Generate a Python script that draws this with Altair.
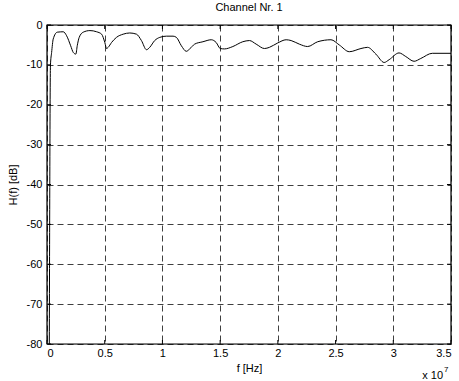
import altair as alt
import pandas as pd

# frequency in units of 1e7 Hz
freq = [0.02, 0.03, 0.04, 0.054, 0.089, 0.141, 0.170, 0.205, 0.228, 0.25, 0.262, 0.279, 0.314,
        0.372, 0.43, 0.473, 0.501, 0.516, 0.53, 0.559, 0.602, 0.66, 0.717, 0.775, 0.818, 0.862,
        0.89, 0.933, 0.977, 1.034, 1.092, 1.121, 1.164, 1.207, 1.236, 1.279, 1.351, 1.423, 1.466,
        1.501, 1.538, 1.61, 1.696, 1.754, 1.812, 1.884, 1.927, 1.999, 2.072, 2.115, 2.186, 2.258,
        2.345, 2.46, 2.532, 2.619, 2.72, 2.777, 2.849, 2.921, 2.964, 3.05, 3.108, 3.18, 3.238,
        3.338, 3.5]
gain_db = [-80, -10, -6.9, -3.5, -1.8, -1.7, -2.7, -5.2, -6.9, -7.3, -5.2, -3.1, -1.8,
           -1.4, -1.7, -2.3, -4.4, -5.9, -5.6, -4.4, -3.1, -2.3, -2.0, -2.3, -3.9, -6.2,
           -5.6, -3.9, -3.1, -2.8, -2.8, -3.1, -5.2, -6.6, -6.0, -4.8, -4.2, -3.7, -4.4,
           -5.9, -6.0, -5.4, -4.2, -3.9, -4.8, -5.9, -5.6, -4.5, -3.7, -3.9, -4.8, -5.4,
           -4.2, -3.7, -5.0, -6.7, -5.9, -5.6, -7.3, -9.4, -8.7, -7.0, -7.9, -9.1, -8.4,
           -7.1, -7.1]

x_ticks = [0, 0.5, 1, 1.5, 2, 2.5, 3, 3.5]
y_ticks = [0, -10, -20, -30, -40, -50, -60, -70, -80]

FONT = "Liberation Sans"
W, H = 404, 319

df = pd.DataFrame({"f": freq, "h": gain_db})
xs = alt.Scale(domain=[0, 3.5], nice=False, zero=False)
ys = alt.Scale(domain=[-80, 0], nice=False, zero=False)

base_axis = dict(grid=True, gridDash=[6, 4], gridColor="#000000", gridOpacity=0.75, gridWidth=1,
                 ticks=False, domain=False, labelFont=FONT, labelFontSize=11, labelColor="#000",
                 labelOverlap=False, labelExpr="datum.value",
                 titleFont=FONT, titleFontSize=11, titleFontWeight="normal", titleColor="#000")
xaxis = alt.Axis(values=x_ticks, title="f [Hz]", labelPadding=3, titlePadding=4, **base_axis)
yaxis = alt.Axis(values=y_ticks, title="H(f) [dB]", labelPadding=5, titlePadding=8, **base_axis)

line = alt.Chart(df).mark_line(color="#000000", strokeWidth=1, interpolate="monotone").encode(
    x=alt.X("f:Q", scale=xs, axis=xaxis),
    y=alt.Y("h:Q", scale=ys, axis=yaxis),
)

# inside tick marks
xt = pd.DataFrame({"v": x_ticks})
yt = pd.DataFrame({"v": y_ticks})
tick_len_y = 80 * 4 / H
tick_len_x = 3.5 * 4 / W
xb = alt.Chart(xt).mark_rule(color="#000").encode(
    x=alt.X("v:Q", scale=xs, axis=xaxis, title="f [Hz]"),
    y=alt.datum(-80, scale=ys, axis=yaxis, title="H(f) [dB]"), y2=alt.datum(-80 + tick_len_y))
xtp = alt.Chart(xt).mark_rule(color="#000").encode(
    x=alt.X("v:Q", scale=xs, axis=xaxis, title="f [Hz]"),
    y=alt.datum(0, scale=ys, axis=yaxis, title="H(f) [dB]"), y2=alt.datum(-tick_len_y))
yl = alt.Chart(yt).mark_rule(color="#000").encode(
    y=alt.Y("v:Q", scale=ys, axis=yaxis, title="H(f) [dB]"),
    x=alt.datum(0, scale=xs, axis=xaxis, title="f [Hz]"), x2=alt.datum(tick_len_x))
yr = alt.Chart(yt).mark_rule(color="#000").encode(
    y=alt.Y("v:Q", scale=ys, axis=yaxis, title="H(f) [dB]"),
    x=alt.datum(3.5, scale=xs, axis=xaxis, title="f [Hz]"), x2=alt.datum(3.5 - tick_len_x))

frame = alt.Chart(pd.DataFrame({"a": [0]})).mark_rect(
    fill=None, fillOpacity=0, stroke="#000", strokeWidth=1.2).encode(
    x=alt.datum(0, scale=xs, axis=xaxis, title="f [Hz]"), x2=alt.datum(3.5),
    y=alt.datum(-80, scale=ys, axis=yaxis, title="H(f) [dB]"), y2=alt.datum(0))

exp_txt = alt.Chart(pd.DataFrame({"t": ["x 10"]})).mark_text(
    font=FONT, fontSize=11, align="right", baseline="alphabetic", color="#000").encode(
    text="t:N", x=alt.value(396), y=alt.value(354))
exp_sup = alt.Chart(pd.DataFrame({"t": ["7"]})).mark_text(
    font=FONT, fontSize=8, align="left", baseline="alphabetic", color="#000").encode(
    text="t:N", x=alt.value(397), y=alt.value(347))

chart = alt.layer(line, xb, xtp, yl, yr, frame, exp_txt, exp_sup).properties(
    width=W, height=H,
    title=alt.TitleParams("Channel Nr. 1", font=FONT, fontSize=11, fontWeight="normal",
                          color="#000", offset=6),
    autosize=alt.AutoSizeParams(type="none"),
    padding={"left": 47, "top": 25, "right": 8, "bottom": 37},
).configure_view(stroke="#000", strokeWidth=1.2).configure(background="white")

chart.save("out.html", embed_options={"renderer": "svg", "actions": False})
